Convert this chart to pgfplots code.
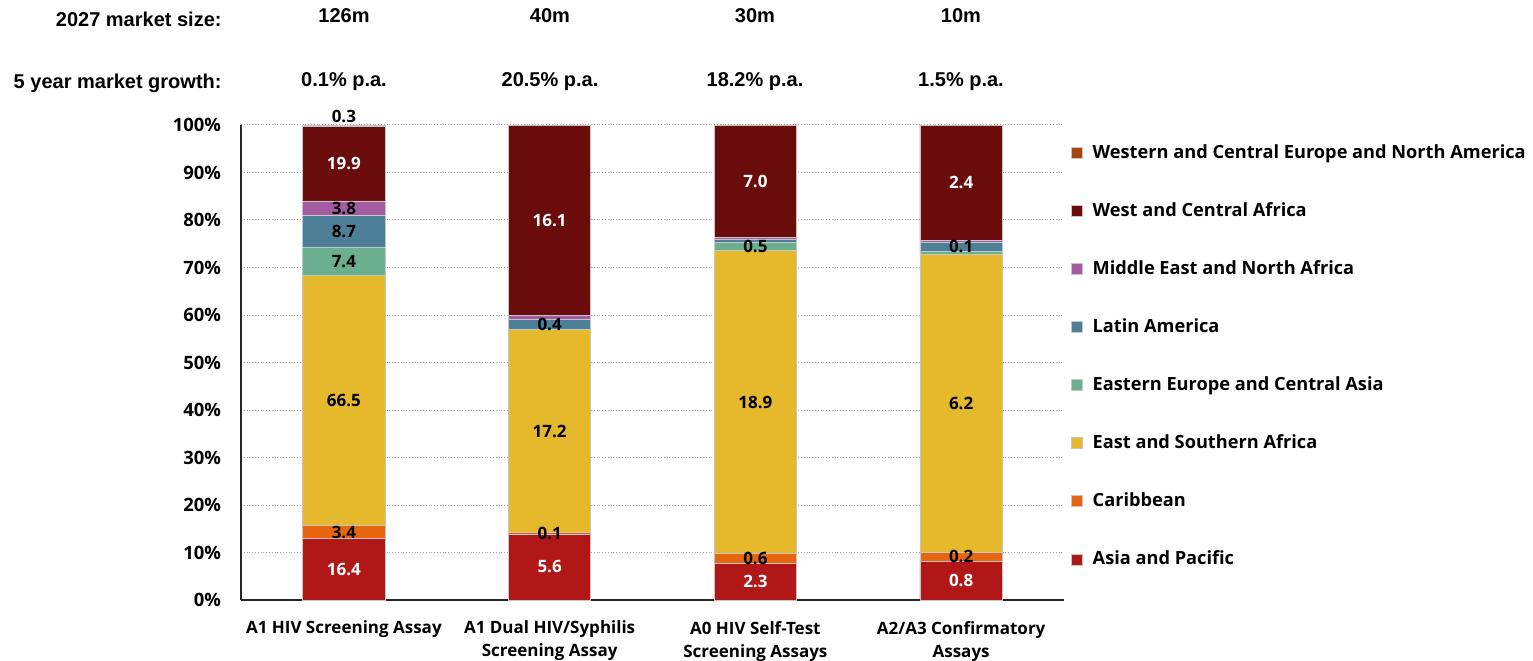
\documentclass[border=0pt]{standalone}
\usepackage{pgfplots}
\usepackage{pgfplotstable}
\pgfplotsset{compat=1.18}
\usepackage{fontspec}
\setmainfont{Open Sans}
\newfontfamily\topfont{Liberation Sans}

\definecolor{cAsia}{HTML}{B11717}
\definecolor{cCarib}{HTML}{E8650F}
\definecolor{cEsa}{HTML}{E6B82B}
\definecolor{cEeca}{HTML}{6AAF8E}
\definecolor{cLa}{HTML}{4E7F98}
\definecolor{cMena}{HTML}{A45CA0}
\definecolor{cWca}{HTML}{6B0C0C}
\definecolor{cWcena}{HTML}{A3470F}

% market size by region, m units; *L = printed label
\pgfplotstableread{
x total asia asiaL carib caribL esa esaL eeca eecaL la laL mena menaL wca wcaL wcena wcenaL
0 126.4 16.4 16.4 3.4 3.4 66.5 66.5 7.4 7.4 8.7 8.7 3.8 3.8 19.9 19.9 0.3 0.3
1 40.25 5.6 5.6 0.1 0.1 17.2 17.2 0.05 {} 0.8 0.4 0.4 {} 16.1 16.1 0 {}
2 29.65 2.3 2.3 0.6 0.6 18.9 18.9 0.5 0.5 0.2 {} 0.15 {} 7.0 7.0 0 {}
3 9.9 0.8 0.8 0.2 0.2 6.2 6.2 0.06 {} 0.2 0.1 0.04 {} 2.4 2.4 0 {}
}\datatable

\newcommand{\lbl}{\bfseries\fontsize{8.5}{11.5}\selectfont}
\newcommand{\toplbl}{\topfont\bfseries\fontsize{10}{12}\selectfont}

\pgfplotsset{
  frame/.style={
    at={(120.5pt,30pt)}, anchor=south west,
    scale only axis, width=411.5pt, height=237.5pt,
    xmin=-0.5, xmax=3.5, ymin=0, ymax=100,
  },
  seglabel/.style={draw=none, mark=none, forget plot,
    point meta=explicit symbolic, nodes near coords,
    every node near coord/.style={anchor=center, font=\lbl, text=#1}},
}

\begin{document}
\begin{tikzpicture}[font=\lbl]
\path[use as bounding box] (0,0) rectangle (766.5pt,330pt);
\begin{axis}[
  frame,
  ybar stacked, bar width=0.4,
  xtick={0,1,2,3},
  xticklabels={A1 HIV Screening Assay, A1 Dual HIV/Syphilis\\Screening Assay,
    A0 HIV Self-Test\\Screening Assays, A2/A3 Confirmatory\\Assays},
  xticklabel style={align=center, font=\lbl, yshift=-7pt},
  ytick={0,10,...,100},
  yticklabel={\pgfmathprintnumber{\tick}\%},
  yticklabel style={font=\bfseries\fontsize{9.2}{11}\selectfont, xshift=-6.5pt},
  /pgf/number format/assume math mode=true,
  ymajorgrids, grid style={densely dotted, gray!70, line width=0.5pt},
  axis x line*=bottom, axis y line*=left,
  axis line style={black!85, line width=0.7pt, -},
  major tick length=0pt,
  legend style={draw=none, fill=none, at={(1.0006,0.9766)}, anchor=north west,
    row sep=16.6pt, font=\bfseries\fontsize{9.1}{11}\selectfont},
  legend cell align=left,
  reverse legend,
  legend image code/.code={\fill[#1] (0pt,-2.75pt) rectangle (5.5pt,2.75pt);
    \path (8.5pt,0pt);},
  every axis plot/.append style={draw=gray!45, line width=0.4pt},
]
\addplot[fill=cAsia]
  table[x=x, y expr=\thisrow{asia}/\thisrow{total}*100] {\datatable};
\addlegendentry{Asia and Pacific}
\addplot[fill=cCarib]
  table[x=x, y expr=\thisrow{carib}/\thisrow{total}*100] {\datatable};
\addlegendentry{Caribbean}
\addplot[fill=cEsa]
  table[x=x, y expr=\thisrow{esa}/\thisrow{total}*100] {\datatable};
\addlegendentry{East and Southern Africa}
\addplot[fill=cEeca]
  table[x=x, y expr=\thisrow{eeca}/\thisrow{total}*100] {\datatable};
\addlegendentry{Eastern Europe and Central Asia}
\addplot[fill=cLa]
  table[x=x, y expr=\thisrow{la}/\thisrow{total}*100] {\datatable};
\addlegendentry{Latin America}
\addplot[fill=cMena]
  table[x=x, y expr=\thisrow{mena}/\thisrow{total}*100] {\datatable};
\addlegendentry{Middle East and North Africa}
\addplot[fill=cWca]
  table[x=x, y expr=\thisrow{wca}/\thisrow{total}*100] {\datatable};
\addlegendentry{West and Central Africa}
\addplot[fill=cWcena]
  table[x=x, y expr=\thisrow{wcena}/\thisrow{total}*100] {\datatable};
\addlegendentry{Western and Central Europe and North America}
\end{axis}

% labels centred in each segment
\begin{axis}[frame, hide axis, clip=false]
\addplot[seglabel=white] table[x=x, meta=asiaL,
  y expr=(\thisrow{asia}/2)/\thisrow{total}*100] {\datatable};
\addplot[seglabel=black] table[x=x, meta=caribL,
  y expr=(\thisrow{asia}+\thisrow{carib}/2)/\thisrow{total}*100] {\datatable};
\addplot[seglabel=black] table[x=x, meta=esaL,
  y expr=(\thisrow{asia}+\thisrow{carib}+\thisrow{esa}/2)/\thisrow{total}*100] {\datatable};
\addplot[seglabel=black] table[x=x, meta=eecaL,
  y expr=(\thisrow{asia}+\thisrow{carib}+\thisrow{esa}+\thisrow{eeca}/2)/\thisrow{total}*100] {\datatable};
\addplot[seglabel=black] table[x=x, meta=laL,
  y expr=(\thisrow{asia}+\thisrow{carib}+\thisrow{esa}+\thisrow{eeca}+\thisrow{la}/2)/\thisrow{total}*100] {\datatable};
\addplot[seglabel=black] table[x=x, meta=menaL,
  y expr=(\thisrow{total}-\thisrow{wcena}-\thisrow{wca}-\thisrow{mena}/2)/\thisrow{total}*100] {\datatable};
\addplot[seglabel=white] table[x=x, meta=wcaL,
  y expr=(\thisrow{total}-\thisrow{wcena}-\thisrow{wca}/2)/\thisrow{total}*100] {\datatable};
\addplot[seglabel=black, every node near coord/.append style={anchor=south, inner sep=1pt}]
  table[x=x, meta=wcenaL, y expr=100] {\datatable};
\end{axis}

\node[anchor=base east, inner sep=0pt, font=\toplbl] at (111pt,316.5pt) {2027 market size:};
\node[anchor=base east, inner sep=0pt, font=\toplbl] at (111pt,285.5pt) {5 year market growth:};
\foreach \xx/\ms/\gr in {172/126m/0.1\% p.a., 275/40m/20.5\% p.a., 377.5/30m/18.2\% p.a., 480.5/10m/1.5\% p.a.}{
  \node[anchor=base, font=\toplbl] at (\xx pt,318.5pt) {\ms};
  \node[anchor=base, font=\toplbl] at (\xx pt,286.5pt) {\gr};
}
\end{tikzpicture}
\end{document}
